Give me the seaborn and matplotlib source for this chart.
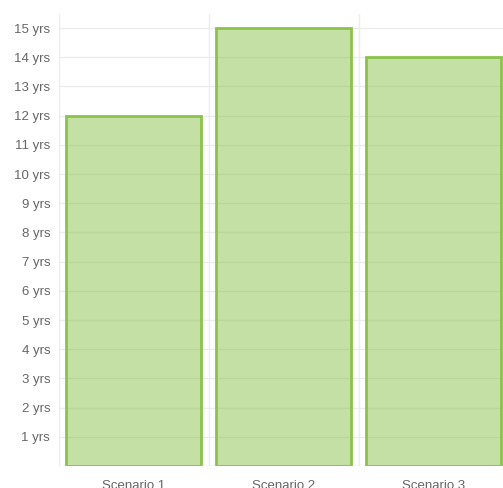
import matplotlib
matplotlib.use('Agg')
import matplotlib.pyplot as plt
import seaborn as sns
import pandas as pd

scenarios = ['Scenario 1', 'Scenario 2', 'Scenario 3']
years = [12, 15, 14]
ytick_values = list(range(0, 16))
ytick_labels = [''] + ['%d yrs' % v for v in range(1, 16)]

sns.set_style('white')
plt.rcParams['font.family'] = ['Liberation Sans', 'DejaVu Sans']

df = pd.DataFrame({'scenario': scenarios, 'years': years})

fig = plt.figure(figsize=(5.03, 4.88), dpi=100)
ax = fig.add_axes([58.5 / 503, 22 / 488, 450 / 503, (466 - 13.5) / 488])

sns.barplot(data=df, x='scenario', y='years', ax=ax, width=0.895,
            color=(0.55, 0.76, 0.29, 0.5), edgecolor='#8bc34a', linewidth=2,
            saturation=1, zorder=3)

ax.set_xlim(-0.5, 2.5)
ax.set_ylim(0, 15.5)
ax.set_yticks(ytick_values)
ax.set_yticklabels(ytick_labels)
ax.set_xticks([-0.5, 0.5, 1.5, 2.5], minor=True)
ax.grid(True, axis='y', color='#ececec', linewidth=1, zorder=0)
ax.grid(True, axis='x', which='minor', color='#ececec', linewidth=1, zorder=0)
ax.grid(False, axis='x', which='major')
ax.tick_params(axis='y', length=5, color='#ececec', labelsize=9.5, labelcolor='#666666', pad=1)
ax.tick_params(axis='x', which='major', length=0, labelsize=9.5, labelcolor='#666666', pad=10)
ax.tick_params(axis='x', which='minor', length=5, color='#ececec')
ax.set_xlabel('')
ax.set_ylabel('')
for s in ax.spines.values():
    s.set_visible(False)

fig.savefig('out.png', dpi=100)
